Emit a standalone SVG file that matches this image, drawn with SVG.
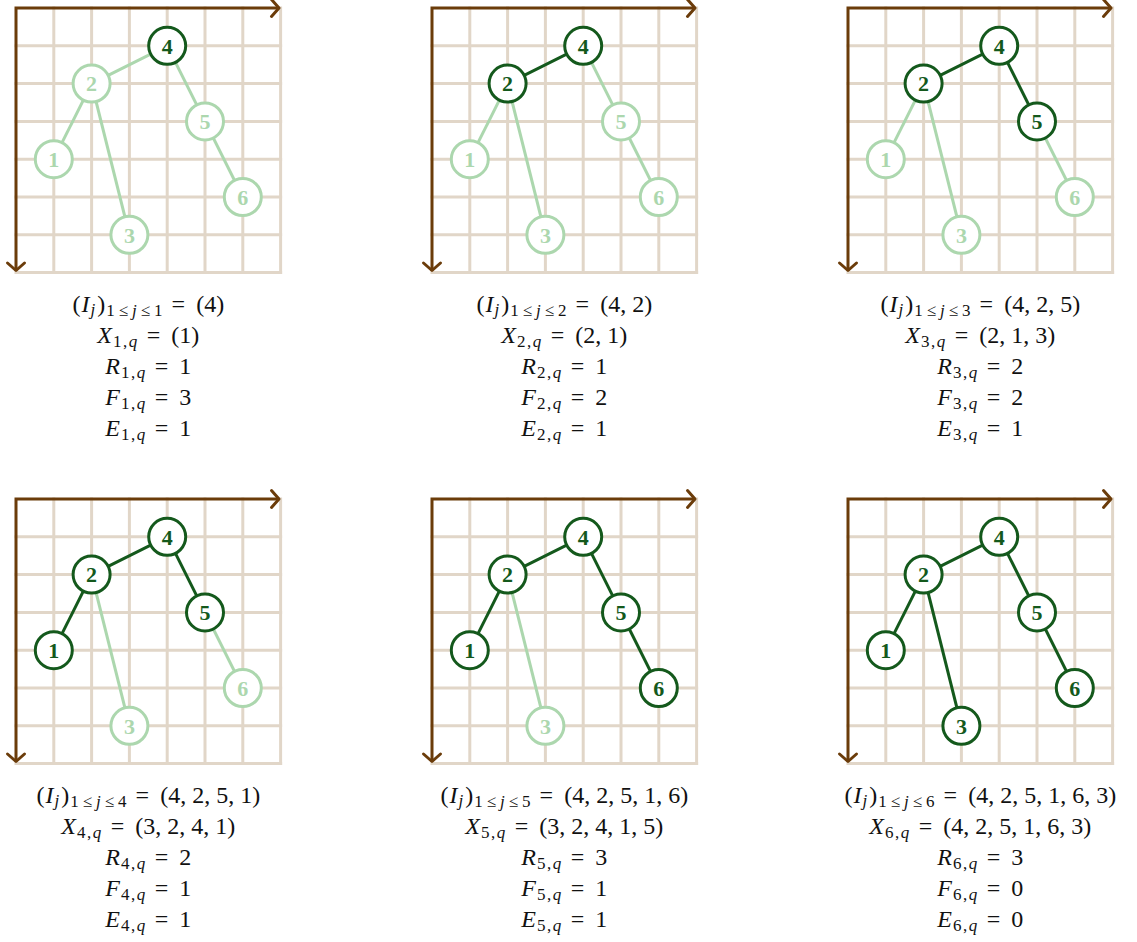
<svg xmlns="http://www.w3.org/2000/svg" xmlns:xlink="http://www.w3.org/1999/xlink" width="1137" height="942" viewBox="0 0 1137 942">
<style>
.gl{stroke:#e1d6c8;stroke-width:3;stroke-linecap:square;fill:none}
.ax{stroke:#6b3c0a;stroke-width:3;fill:none;stroke-linejoin:miter}
.e{stroke-width:3;fill:none}
.ed{stroke:#14591c}
.el{stroke:#acd7ae}
.n circle{fill:#fff;stroke-width:3}
.nd circle{stroke:#14591c}
.nl circle{stroke:#acd7ae}
.n text{font-family:"Liberation Serif",serif;font-weight:bold;font-size:22px;text-anchor:middle}
.nd text{fill:#14591c}
.nl text{fill:#acd7ae}
.m{font-family:"Liberation Serif",serif;font-size:24px;text-anchor:middle;fill:#111}
.i{font-style:italic}
.s{font-size:17px}
.l3{letter-spacing:4px}
.l2{letter-spacing:1.5px}
</style>
<defs>
<marker id="ah" viewBox="-12 -12 24 24" markerWidth="24" markerHeight="24" markerUnits="userSpaceOnUse" refX="0" refY="0" orient="auto-start-reverse">
<path d="M-7.5,-8.5 L0,0 L-7.5,8.5" fill="none" stroke="#6b3c0a" stroke-width="3" stroke-linecap="round" stroke-linejoin="round"/>
</marker>
<g id="grid">
<g class="gl">
<line x1="53.8" y1="8" x2="53.8" y2="272.6"/>
<line x1="91.6" y1="8" x2="91.6" y2="272.6"/>
<line x1="129.4" y1="8" x2="129.4" y2="272.6"/>
<line x1="167.2" y1="8" x2="167.2" y2="272.6"/>
<line x1="205" y1="8" x2="205" y2="272.6"/>
<line x1="242.8" y1="8" x2="242.8" y2="272.6"/>
<line x1="280.6" y1="8" x2="280.6" y2="272.6"/>
<line x1="16" y1="45.8" x2="280.6" y2="45.8"/>
<line x1="16" y1="83.6" x2="280.6" y2="83.6"/>
<line x1="16" y1="121.4" x2="280.6" y2="121.4"/>
<line x1="16" y1="159.2" x2="280.6" y2="159.2"/>
<line x1="16" y1="197" x2="280.6" y2="197"/>
<line x1="16" y1="234.8" x2="280.6" y2="234.8"/>
<line x1="16" y1="272.6" x2="280.6" y2="272.6"/>
</g>
<path class="ax" d="M279,8 H16 V270.5" marker-start="url(#ah)" marker-end="url(#ah)"/>
</g>
</defs>

<!-- Panel 1 -->
<g id="panel1">
<use href="#grid" xlink:href="#grid"/>
<g id="p1-edges">
<line class="e el" x1="167.2" y1="45.8" x2="91.6" y2="83.6"/>
<line class="e el" x1="167.2" y1="45.8" x2="205" y2="121.4"/>
<line class="e el" x1="91.6" y1="83.6" x2="53.8" y2="159.2"/>
<line class="e el" x1="91.6" y1="83.6" x2="129.4" y2="234.8"/>
<line class="e el" x1="205" y1="121.4" x2="242.8" y2="197"/>
</g>
<g id="p1-n1" class="n nl"><circle cx="53.8" cy="159.2" r="18.5"/><text x="53.8" y="166.9">1</text></g>
<g id="p1-n2" class="n nl"><circle cx="91.6" cy="83.6" r="18.5"/><text x="91.6" y="91.3">2</text></g>
<g id="p1-n3" class="n nl"><circle cx="129.4" cy="234.8" r="18.5"/><text x="129.4" y="242.5">3</text></g>
<g id="p1-n4" class="n nd"><circle cx="167.2" cy="45.8" r="18.5"/><text x="167.2" y="53.5">4</text></g>
<g id="p1-n5" class="n nl"><circle cx="205" cy="121.4" r="18.5"/><text x="205" y="129.1">5</text></g>
<g id="p1-n6" class="n nl"><circle cx="242.8" cy="197" r="18.5"/><text x="242.8" y="204.7">6</text></g>
<g id="p1-text">
<text class="m" x="148.3" y="312">(<tspan class="i" dx="1">I</tspan><tspan class="s i" dy="3" dx="1">j</tspan><tspan dy="-3" dx="2">)</tspan><tspan class="s l3" dy="4" dx="1">1≤<tspan class="i">j</tspan>≤1</tspan><tspan dy="-4" dx="5">=</tspan><tspan dx="11">(4)</tspan></text>
<text class="m" x="148.3" y="343"><tspan class="i">X</tspan><tspan class="s l2" dy="4" dx="1">1,<tspan class="i">q</tspan></tspan><tspan dy="-4" dx="8">=</tspan><tspan dx="11">(1)</tspan></text>
<text class="m" x="148.3" y="374"><tspan class="i">R</tspan><tspan class="s l2" dy="4" dx="1">1,<tspan class="i">q</tspan></tspan><tspan dy="-4" dx="8">=</tspan><tspan dx="11">1</tspan></text>
<text class="m" x="148.3" y="405"><tspan class="i">F</tspan><tspan class="s l2" dy="4" dx="1">1,<tspan class="i">q</tspan></tspan><tspan dy="-4" dx="8">=</tspan><tspan dx="11">3</tspan></text>
<text class="m" x="148.3" y="436"><tspan class="i">E</tspan><tspan class="s l2" dy="4" dx="1">1,<tspan class="i">q</tspan></tspan><tspan dy="-4" dx="8">=</tspan><tspan dx="11">1</tspan></text>
</g>
</g>

<!-- Panel 2 -->
<g id="panel2" transform="translate(416,0)">
<use href="#grid" xlink:href="#grid"/>
<g id="p2-edges">
<line class="e ed" x1="167.2" y1="45.8" x2="91.6" y2="83.6"/>
<line class="e el" x1="167.2" y1="45.8" x2="205" y2="121.4"/>
<line class="e el" x1="91.6" y1="83.6" x2="53.8" y2="159.2"/>
<line class="e el" x1="91.6" y1="83.6" x2="129.4" y2="234.8"/>
<line class="e el" x1="205" y1="121.4" x2="242.8" y2="197"/>
</g>
<g id="p2-n1" class="n nl"><circle cx="53.8" cy="159.2" r="18.5"/><text x="53.8" y="166.9">1</text></g>
<g id="p2-n2" class="n nd"><circle cx="91.6" cy="83.6" r="18.5"/><text x="91.6" y="91.3">2</text></g>
<g id="p2-n3" class="n nl"><circle cx="129.4" cy="234.8" r="18.5"/><text x="129.4" y="242.5">3</text></g>
<g id="p2-n4" class="n nd"><circle cx="167.2" cy="45.8" r="18.5"/><text x="167.2" y="53.5">4</text></g>
<g id="p2-n5" class="n nl"><circle cx="205" cy="121.4" r="18.5"/><text x="205" y="129.1">5</text></g>
<g id="p2-n6" class="n nl"><circle cx="242.8" cy="197" r="18.5"/><text x="242.8" y="204.7">6</text></g>
<g id="p2-text">
<text class="m" x="148.3" y="312">(<tspan class="i" dx="1">I</tspan><tspan class="s i" dy="3" dx="1">j</tspan><tspan dy="-3" dx="2">)</tspan><tspan class="s l3" dy="4" dx="1">1≤<tspan class="i">j</tspan>≤2</tspan><tspan dy="-4" dx="5">=</tspan><tspan dx="11">(4, 2)</tspan></text>
<text class="m" x="148.3" y="343"><tspan class="i">X</tspan><tspan class="s l2" dy="4" dx="1">2,<tspan class="i">q</tspan></tspan><tspan dy="-4" dx="8">=</tspan><tspan dx="11">(2, 1)</tspan></text>
<text class="m" x="148.3" y="374"><tspan class="i">R</tspan><tspan class="s l2" dy="4" dx="1">2,<tspan class="i">q</tspan></tspan><tspan dy="-4" dx="8">=</tspan><tspan dx="11">1</tspan></text>
<text class="m" x="148.3" y="405"><tspan class="i">F</tspan><tspan class="s l2" dy="4" dx="1">2,<tspan class="i">q</tspan></tspan><tspan dy="-4" dx="8">=</tspan><tspan dx="11">2</tspan></text>
<text class="m" x="148.3" y="436"><tspan class="i">E</tspan><tspan class="s l2" dy="4" dx="1">2,<tspan class="i">q</tspan></tspan><tspan dy="-4" dx="8">=</tspan><tspan dx="11">1</tspan></text>
</g>
</g>

<!-- Panel 3 -->
<g id="panel3" transform="translate(832,0)">
<use href="#grid" xlink:href="#grid"/>
<g id="p3-edges">
<line class="e ed" x1="167.2" y1="45.8" x2="91.6" y2="83.6"/>
<line class="e ed" x1="167.2" y1="45.8" x2="205" y2="121.4"/>
<line class="e el" x1="91.6" y1="83.6" x2="53.8" y2="159.2"/>
<line class="e el" x1="91.6" y1="83.6" x2="129.4" y2="234.8"/>
<line class="e el" x1="205" y1="121.4" x2="242.8" y2="197"/>
</g>
<g id="p3-n1" class="n nl"><circle cx="53.8" cy="159.2" r="18.5"/><text x="53.8" y="166.9">1</text></g>
<g id="p3-n2" class="n nd"><circle cx="91.6" cy="83.6" r="18.5"/><text x="91.6" y="91.3">2</text></g>
<g id="p3-n3" class="n nl"><circle cx="129.4" cy="234.8" r="18.5"/><text x="129.4" y="242.5">3</text></g>
<g id="p3-n4" class="n nd"><circle cx="167.2" cy="45.8" r="18.5"/><text x="167.2" y="53.5">4</text></g>
<g id="p3-n5" class="n nd"><circle cx="205" cy="121.4" r="18.5"/><text x="205" y="129.1">5</text></g>
<g id="p3-n6" class="n nl"><circle cx="242.8" cy="197" r="18.5"/><text x="242.8" y="204.7">6</text></g>
<g id="p3-text">
<text class="m" x="148.3" y="312">(<tspan class="i" dx="1">I</tspan><tspan class="s i" dy="3" dx="1">j</tspan><tspan dy="-3" dx="2">)</tspan><tspan class="s l3" dy="4" dx="1">1≤<tspan class="i">j</tspan>≤3</tspan><tspan dy="-4" dx="5">=</tspan><tspan dx="11">(4, 2, 5)</tspan></text>
<text class="m" x="148.3" y="343"><tspan class="i">X</tspan><tspan class="s l2" dy="4" dx="1">3,<tspan class="i">q</tspan></tspan><tspan dy="-4" dx="8">=</tspan><tspan dx="11">(2, 1, 3)</tspan></text>
<text class="m" x="148.3" y="374"><tspan class="i">R</tspan><tspan class="s l2" dy="4" dx="1">3,<tspan class="i">q</tspan></tspan><tspan dy="-4" dx="8">=</tspan><tspan dx="11">2</tspan></text>
<text class="m" x="148.3" y="405"><tspan class="i">F</tspan><tspan class="s l2" dy="4" dx="1">3,<tspan class="i">q</tspan></tspan><tspan dy="-4" dx="8">=</tspan><tspan dx="11">2</tspan></text>
<text class="m" x="148.3" y="436"><tspan class="i">E</tspan><tspan class="s l2" dy="4" dx="1">3,<tspan class="i">q</tspan></tspan><tspan dy="-4" dx="8">=</tspan><tspan dx="11">1</tspan></text>
</g>
</g>

<!-- Panel 4 -->
<g id="panel4" transform="translate(0,491)">
<use href="#grid" xlink:href="#grid"/>
<g id="p4-edges">
<line class="e ed" x1="167.2" y1="45.8" x2="91.6" y2="83.6"/>
<line class="e ed" x1="167.2" y1="45.8" x2="205" y2="121.4"/>
<line class="e ed" x1="91.6" y1="83.6" x2="53.8" y2="159.2"/>
<line class="e el" x1="91.6" y1="83.6" x2="129.4" y2="234.8"/>
<line class="e el" x1="205" y1="121.4" x2="242.8" y2="197"/>
</g>
<g id="p4-n1" class="n nd"><circle cx="53.8" cy="159.2" r="18.5"/><text x="53.8" y="166.9">1</text></g>
<g id="p4-n2" class="n nd"><circle cx="91.6" cy="83.6" r="18.5"/><text x="91.6" y="91.3">2</text></g>
<g id="p4-n3" class="n nl"><circle cx="129.4" cy="234.8" r="18.5"/><text x="129.4" y="242.5">3</text></g>
<g id="p4-n4" class="n nd"><circle cx="167.2" cy="45.8" r="18.5"/><text x="167.2" y="53.5">4</text></g>
<g id="p4-n5" class="n nd"><circle cx="205" cy="121.4" r="18.5"/><text x="205" y="129.1">5</text></g>
<g id="p4-n6" class="n nl"><circle cx="242.8" cy="197" r="18.5"/><text x="242.8" y="204.7">6</text></g>
<g id="p4-text">
<text class="m" x="148.3" y="312">(<tspan class="i" dx="1">I</tspan><tspan class="s i" dy="3" dx="1">j</tspan><tspan dy="-3" dx="2">)</tspan><tspan class="s l3" dy="4" dx="1">1≤<tspan class="i">j</tspan>≤4</tspan><tspan dy="-4" dx="5">=</tspan><tspan dx="11">(4, 2, 5, 1)</tspan></text>
<text class="m" x="148.3" y="343"><tspan class="i">X</tspan><tspan class="s l2" dy="4" dx="1">4,<tspan class="i">q</tspan></tspan><tspan dy="-4" dx="8">=</tspan><tspan dx="11">(3, 2, 4, 1)</tspan></text>
<text class="m" x="148.3" y="374"><tspan class="i">R</tspan><tspan class="s l2" dy="4" dx="1">4,<tspan class="i">q</tspan></tspan><tspan dy="-4" dx="8">=</tspan><tspan dx="11">2</tspan></text>
<text class="m" x="148.3" y="405"><tspan class="i">F</tspan><tspan class="s l2" dy="4" dx="1">4,<tspan class="i">q</tspan></tspan><tspan dy="-4" dx="8">=</tspan><tspan dx="11">1</tspan></text>
<text class="m" x="148.3" y="436"><tspan class="i">E</tspan><tspan class="s l2" dy="4" dx="1">4,<tspan class="i">q</tspan></tspan><tspan dy="-4" dx="8">=</tspan><tspan dx="11">1</tspan></text>
</g>
</g>

<!-- Panel 5 -->
<g id="panel5" transform="translate(416,491)">
<use href="#grid" xlink:href="#grid"/>
<g id="p5-edges">
<line class="e ed" x1="167.2" y1="45.8" x2="91.6" y2="83.6"/>
<line class="e ed" x1="167.2" y1="45.8" x2="205" y2="121.4"/>
<line class="e ed" x1="91.6" y1="83.6" x2="53.8" y2="159.2"/>
<line class="e el" x1="91.6" y1="83.6" x2="129.4" y2="234.8"/>
<line class="e ed" x1="205" y1="121.4" x2="242.8" y2="197"/>
</g>
<g id="p5-n1" class="n nd"><circle cx="53.8" cy="159.2" r="18.5"/><text x="53.8" y="166.9">1</text></g>
<g id="p5-n2" class="n nd"><circle cx="91.6" cy="83.6" r="18.5"/><text x="91.6" y="91.3">2</text></g>
<g id="p5-n3" class="n nl"><circle cx="129.4" cy="234.8" r="18.5"/><text x="129.4" y="242.5">3</text></g>
<g id="p5-n4" class="n nd"><circle cx="167.2" cy="45.8" r="18.5"/><text x="167.2" y="53.5">4</text></g>
<g id="p5-n5" class="n nd"><circle cx="205" cy="121.4" r="18.5"/><text x="205" y="129.1">5</text></g>
<g id="p5-n6" class="n nd"><circle cx="242.8" cy="197" r="18.5"/><text x="242.8" y="204.7">6</text></g>
<g id="p5-text">
<text class="m" x="148.3" y="312">(<tspan class="i" dx="1">I</tspan><tspan class="s i" dy="3" dx="1">j</tspan><tspan dy="-3" dx="2">)</tspan><tspan class="s l3" dy="4" dx="1">1≤<tspan class="i">j</tspan>≤5</tspan><tspan dy="-4" dx="5">=</tspan><tspan dx="11">(4, 2, 5, 1, 6)</tspan></text>
<text class="m" x="148.3" y="343"><tspan class="i">X</tspan><tspan class="s l2" dy="4" dx="1">5,<tspan class="i">q</tspan></tspan><tspan dy="-4" dx="8">=</tspan><tspan dx="11">(3, 2, 4, 1, 5)</tspan></text>
<text class="m" x="148.3" y="374"><tspan class="i">R</tspan><tspan class="s l2" dy="4" dx="1">5,<tspan class="i">q</tspan></tspan><tspan dy="-4" dx="8">=</tspan><tspan dx="11">3</tspan></text>
<text class="m" x="148.3" y="405"><tspan class="i">F</tspan><tspan class="s l2" dy="4" dx="1">5,<tspan class="i">q</tspan></tspan><tspan dy="-4" dx="8">=</tspan><tspan dx="11">1</tspan></text>
<text class="m" x="148.3" y="436"><tspan class="i">E</tspan><tspan class="s l2" dy="4" dx="1">5,<tspan class="i">q</tspan></tspan><tspan dy="-4" dx="8">=</tspan><tspan dx="11">1</tspan></text>
</g>
</g>

<!-- Panel 6 -->
<g id="panel6" transform="translate(832,491)">
<use href="#grid" xlink:href="#grid"/>
<g id="p6-edges">
<line class="e ed" x1="167.2" y1="45.8" x2="91.6" y2="83.6"/>
<line class="e ed" x1="167.2" y1="45.8" x2="205" y2="121.4"/>
<line class="e ed" x1="91.6" y1="83.6" x2="53.8" y2="159.2"/>
<line class="e ed" x1="91.6" y1="83.6" x2="129.4" y2="234.8"/>
<line class="e ed" x1="205" y1="121.4" x2="242.8" y2="197"/>
</g>
<g id="p6-n1" class="n nd"><circle cx="53.8" cy="159.2" r="18.5"/><text x="53.8" y="166.9">1</text></g>
<g id="p6-n2" class="n nd"><circle cx="91.6" cy="83.6" r="18.5"/><text x="91.6" y="91.3">2</text></g>
<g id="p6-n3" class="n nd"><circle cx="129.4" cy="234.8" r="18.5"/><text x="129.4" y="242.5">3</text></g>
<g id="p6-n4" class="n nd"><circle cx="167.2" cy="45.8" r="18.5"/><text x="167.2" y="53.5">4</text></g>
<g id="p6-n5" class="n nd"><circle cx="205" cy="121.4" r="18.5"/><text x="205" y="129.1">5</text></g>
<g id="p6-n6" class="n nd"><circle cx="242.8" cy="197" r="18.5"/><text x="242.8" y="204.7">6</text></g>
<g id="p6-text">
<text class="m" x="148.3" y="312">(<tspan class="i" dx="1">I</tspan><tspan class="s i" dy="3" dx="1">j</tspan><tspan dy="-3" dx="2">)</tspan><tspan class="s l3" dy="4" dx="1">1≤<tspan class="i">j</tspan>≤6</tspan><tspan dy="-4" dx="5">=</tspan><tspan dx="11">(4, 2, 5, 1, 6, 3)</tspan></text>
<text class="m" x="148.3" y="343"><tspan class="i">X</tspan><tspan class="s l2" dy="4" dx="1">6,<tspan class="i">q</tspan></tspan><tspan dy="-4" dx="8">=</tspan><tspan dx="11">(4, 2, 5, 1, 6, 3)</tspan></text>
<text class="m" x="148.3" y="374"><tspan class="i">R</tspan><tspan class="s l2" dy="4" dx="1">6,<tspan class="i">q</tspan></tspan><tspan dy="-4" dx="8">=</tspan><tspan dx="11">3</tspan></text>
<text class="m" x="148.3" y="405"><tspan class="i">F</tspan><tspan class="s l2" dy="4" dx="1">6,<tspan class="i">q</tspan></tspan><tspan dy="-4" dx="8">=</tspan><tspan dx="11">0</tspan></text>
<text class="m" x="148.3" y="436"><tspan class="i">E</tspan><tspan class="s l2" dy="4" dx="1">6,<tspan class="i">q</tspan></tspan><tspan dy="-4" dx="8">=</tspan><tspan dx="11">0</tspan></text>
</g>
</g>
</svg>
